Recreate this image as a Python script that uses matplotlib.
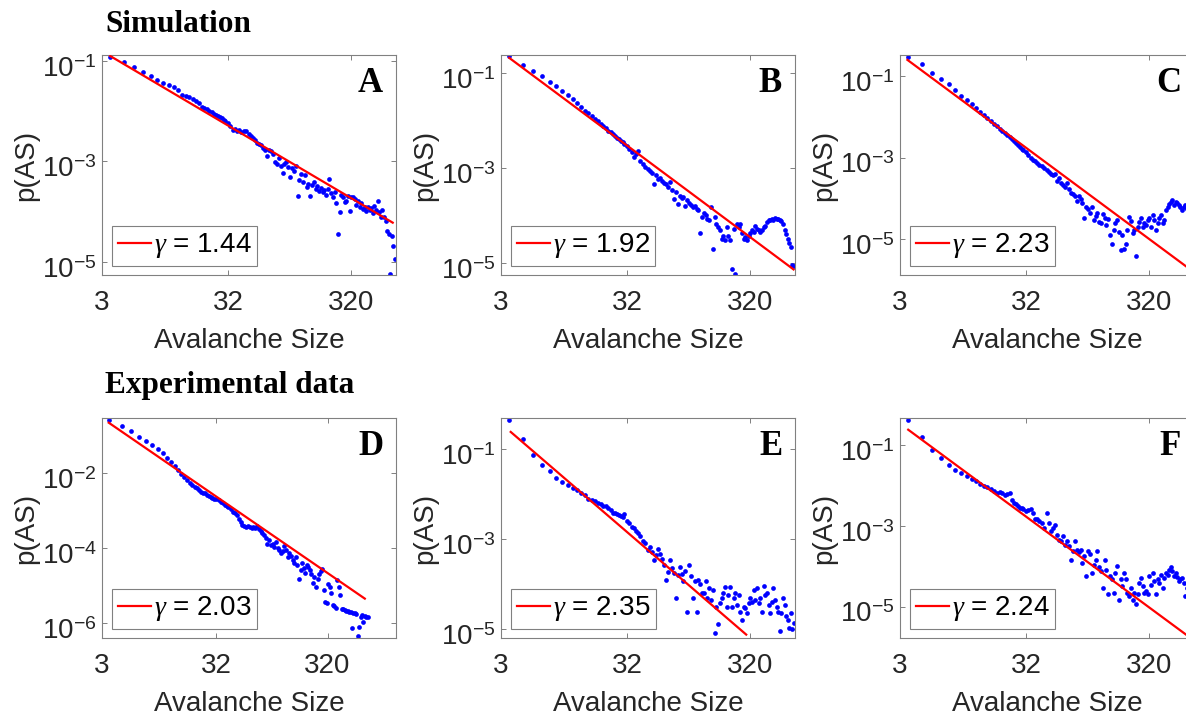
import matplotlib
matplotlib.use('Agg')
import matplotlib.pyplot as plt
from matplotlib.transforms import ScaledTranslation
import numpy as np

plt.rcParams['font.family'] = ['Liberation Sans', 'DejaVu Sans']
plt.rcParams['mathtext.fontset'] = 'custom'
plt.rcParams['mathtext.rm'] = 'Liberation Sans'
plt.rcParams['mathtext.it'] = 'Liberation Serif:italic'
plt.rcParams['mathtext.bf'] = 'Liberation Sans:bold'

#================================================
#               DATA
#================================================

# avalanche size bins (shared by all panels)
sizes = [
    3.5, 4.5, 5.5, 6.5, 7.5, 8.5, 9.5, 10.5, 11.5, 12.5,
    13.5, 14.5, 15.5, 16.5, 17.5, 18.5, 19.5, 20.5, 21.5, 22.5,
    23.5, 24.5, 25.5, 26.5, 27.5, 28.5, 29.5, 30.5, 32, 33.5,
    35, 36.5, 38, 39.5, 41, 43, 45, 47, 49, 51,
    53, 55, 57, 59, 61.5, 64, 66.5, 69, 71.5, 74,
    77, 80, 83, 86, 89, 92, 95.5, 99, 102.5, 106,
    110, 114, 118, 122, 126.5, 131, 135.5, 140, 145, 150,
    155, 160, 165.5, 171, 177, 183, 189, 195, 201.5, 208,
    215, 222, 229, 236.5, 244, 252, 260, 268.5, 277, 286,
    295, 304.5, 314, 324, 334.5, 345, 356, 367.5, 379, 391,
    403.5, 416, 429, 442.5, 456, 470, 485, 500, 515.5, 531,
    547, 564, 581, 598.5, 616, 634, 653, 672, 692, 712,
    733,
]

# log10 p(AS), simulation
log_p_a = [
    -0.91, -1.01, -1.11, -1.22, -1.30, -1.37, -1.43, -1.47, -1.52, -1.57,
    -1.67, -1.69, -1.72, -1.75, -1.80, -1.83, -1.91, -1.94, -1.96, -1.99,
    -2.01, -2.05, -2.07, -2.09, -2.11, -2.14, -2.17, -2.19, -2.23, -2.30,
    -2.38, -2.35, -2.39, -2.37, -2.41, -2.40, -2.39, -2.45, -2.50, -2.53,
    -2.58, -2.63, -2.66, -2.68, -2.73, -2.78, -2.90, -2.77, -2.79, -2.86,
    -3.01, -3.05, -2.93, -3.09, -3.23, -3.05, -3.01, -3.11, -3.30, -3.13,
    -3.19, -3.08, -3.68, -3.37, -3.25, -3.41, -3.26, -3.51, -3.45, -3.68,
    -3.46, -3.41, -3.55, -3.48, -3.58, -3.53, -3.61, -3.57, -3.66, -3.55,
    -3.35, -3.63, -3.71, -3.61, -3.83, -4.45, -4.01, -3.66, -3.71, -3.81,
    -3.78, -3.68, -3.98, -3.71, -3.70, -3.75, -3.86, -3.79, -3.91, -3.83,
    -3.95, -3.90, -3.99, -3.90, -3.97, -3.93, -4.03, -3.88, -3.97, -3.79,
    -4.01, -4.10, -3.97, -4.11, -4.19, -4.38, -4.45, -5.25, -4.48, -4.68,
    -4.95,
]
log_p_b = [
    -0.65, -0.82, -0.96, -1.06, -1.19, -1.28, -1.38, -1.46, -1.55, -1.62,
    -1.72, -1.79, -1.84, -1.91, -1.96, -2.01, -2.07, -2.11, -2.15, -2.21,
    -2.25, -2.28, -2.32, -2.36, -2.39, -2.43, -2.46, -2.49, -2.54, -2.60,
    -2.66, -2.77, -2.70, -2.64, -2.85, -2.91, -2.98, -3.02, -3.06, -3.11,
    -3.34, -3.15, -3.23, -3.20, -3.27, -3.32, -3.34, -3.39, -3.30, -3.46,
    -3.65, -3.51, -3.75, -3.58, -3.63, -3.61, -3.79, -3.68, -3.74, -3.77,
    -3.82, -3.79, -3.86, -3.89, -4.37, -4.03, -3.95, -3.98, -4.07, -4.10,
    -3.82, -4.70, -4.03, -4.17, -4.24, -4.30, -4.49, -4.42, -4.52, -4.23,
    -4.42, -4.52, -5.12, -4.28, -5.23, -4.17, -4.24, -4.17, -4.37, -4.49,
    -4.44, -4.52, -4.42, -4.37, -4.31, -4.35, -4.21, -4.28, -4.31, -4.35,
    -4.31, -4.24, -4.21, -4.14, -4.10, -4.09, -4.07, -4.10, -4.05, -4.07,
    -4.07, -4.09, -4.12, -4.17, -4.31, -4.38, -4.49, -4.58, -4.66, -5.05,
    -5.07,
]
log_p_c = [
    -0.52, -0.71, -0.91, -1.07, -1.20, -1.35, -1.48, -1.58, -1.69, -1.79,
    -1.88, -1.96, -2.03, -2.11, -2.17, -2.23, -2.29, -2.34, -2.39, -2.44,
    -2.49, -2.54, -2.59, -2.64, -2.69, -2.74, -2.78, -2.81, -2.86, -2.94,
    -3.01, -3.06, -3.09, -3.14, -3.17, -3.20, -3.25, -3.30, -3.34, -3.39,
    -3.43, -3.40, -3.57, -3.51, -3.61, -3.66, -3.71, -3.63, -3.78, -3.86,
    -3.89, -3.94, -4.06, -3.93, -4.02, -4.12, -4.49, -4.20, -4.27, -4.35,
    -4.20, -4.52, -4.43, -4.37, -4.57, -4.61, -4.39, -4.47, -4.65, -4.50,
    -4.90, -5.11, -4.78, -4.61, -4.53, -4.82, -5.27, -4.91, -5.25, -5.11,
    -4.78, -4.45, -4.55, -4.86, -4.78, -5.42, -4.70, -4.57, -4.49, -4.70,
    -4.61, -4.66, -4.53, -4.49, -4.70, -4.41, -4.53, -4.78, -4.61, -4.49,
    -4.41, -4.61, -4.52, -4.29, -4.20, -4.14, -4.08, -4.04, -4.16, -4.08,
    -4.12, -4.17, -4.20, -4.29, -4.22, -4.17, -4.27, -4.37, -4.45, -4.53,
    -4.61,
]

# log10 p(AS), experimental data
log_p_d = [
    -0.60, -0.76, -0.89, -1.04, -1.15, -1.25, -1.37, -1.47, -1.62, -1.72,
    -1.82, -1.93, -2.02, -2.11, -2.18, -2.26, -2.32, -2.37, -2.41, -2.46,
    -2.50, -2.53, -2.55, -2.58, -2.62, -2.64, -2.67, -2.69, -2.71, -2.73,
    -2.78, -2.81, -2.85, -2.89, -2.92, -2.97, -3.04, -3.08, -3.12, -3.24,
    -3.31, -3.38, -3.42, -3.43, -3.42, -3.45, -3.48, -3.43, -3.46, -3.42,
    -3.50, -3.54, -3.59, -3.66, -3.72, -3.88, -3.79, -3.92, -3.89, -3.96,
    -3.84, -4.01, -4.05, -4.14, -4.07, -3.95, -4.04, -4.23, -4.12, -4.20,
    -4.32, -4.41, -4.25, -4.45, -4.81, -4.58, -4.41, -4.54, -4.66, -4.45,
    -4.51, -4.58, -4.69, -4.94, -4.76, -5.03, -4.81, -4.69, -4.60, -4.57,
    -5.12, -5.43, -5.45, -4.96, -5.03, -5.20, -5.51, -5.54, -5.58, -4.85,
    -5.03, -5.25, -5.61, -5.63, -5.65, -5.66, -5.66, -5.69, -5.71, -6.13,
    -5.72, -5.73, -5.76, -6.34, -6.09, -5.84, -5.78, -5.96, -5.81, -5.82,
    -5.84,
]
log_p_e = [
    -0.35, -0.76, -1.13, -1.35, -1.47, -1.63, -1.72, -1.80, -1.86, -1.91,
    -1.98, -2.01, -2.10, -2.13, -2.15, -2.19, -2.21, -2.25, -2.27, -2.30,
    -2.36, -2.42, -2.41, -2.44, -2.46, -2.48, -2.51, -2.44, -2.59, -2.64,
    -2.72, -2.76, -2.81, -2.87, -2.93, -3.05, -3.09, -3.25, -3.18, -3.28,
    -3.46, -3.35, -3.22, -3.33, -3.44, -3.57, -3.90, -3.73, -3.47, -3.65,
    -3.76, -4.31, -3.80, -3.62, -3.77, -3.94, -3.70, -4.61, -3.58, -3.83,
    -4.31, -3.94, -4.61, -3.90, -3.99, -4.20, -4.19, -3.92, -4.32, -4.09,
    -4.35, -4.14, -5.09, -4.50, -4.88, -4.42, -4.32, -4.20, -4.07, -4.50,
    -4.24, -4.07, -4.50, -4.32, -4.20, -4.46, -4.24, -4.61, -4.79, -4.50,
    -4.54, -4.64, -4.42, -4.31, -4.39, -4.13, -4.35, -4.09, -4.42, -4.31,
    -4.61, -4.05, -4.24, -4.20, -4.47, -4.64, -4.39, -4.09, -4.35, -4.50,
    -4.61, -5.05, -4.64, -4.32, -4.47, -4.72, -4.79, -4.98, -4.64, -5.00,
    -4.87,
]
log_p_f = [
    -0.37, -0.80, -1.13, -1.32, -1.49, -1.63, -1.69, -1.76, -1.84, -1.90,
    -1.96, -2.01, -2.04, -2.09, -2.15, -2.19, -2.16, -2.20, -2.23, -2.22,
    -2.19, -2.37, -2.44, -2.45, -2.50, -2.56, -2.55, -2.58, -2.64, -2.62,
    -2.58, -2.68, -2.83, -2.83, -2.89, -2.93, -3.05, -2.68, -2.93, -3.14,
    -3.05, -2.97, -3.22, -3.36, -3.38, -3.26, -3.47, -3.38, -3.51, -3.84,
    -3.63, -3.38, -3.59, -3.66, -3.59, -3.92, -3.76, -4.25, -3.63, -3.71,
    -4.17, -3.96, -3.84, -3.63, -4.02, -4.13, -4.54, -3.84, -4.09, -4.70,
    -4.25, -4.33, -4.66, -4.17, -4.00, -4.83, -4.33, -4.50, -4.17, -4.33,
    -4.66, -4.75, -4.54, -4.83, -4.66, -4.95, -4.70, -4.42, -4.29, -4.50,
    -4.66, -4.62, -4.70, -4.25, -4.46, -4.17, -4.38, -4.70, -4.33, -4.42,
    -4.21, -4.54, -4.29, -4.17, -4.21, -4.09, -4.02, -4.13, -4.25, -4.17,
    -4.27, -4.38, -4.33, -4.29, -4.42, -4.75, -4.54, -4.58, -4.83, -4.70,
    -4.91,
]

panel_letters = ['A', 'B', 'C', 'D', 'E', 'F']
panel_data = [log_p_a, log_p_b, log_p_c, log_p_d, log_p_e, log_p_f]

# power-law fits: exponent, start point of the line, end of the line
gammas = [1.44, 1.92, 2.23, 2.03, 2.35, 2.24]
fit_x0 = [3.5, 3.5, 3.45, 3.45, 3.6, 3.5]
fit_logp0 = [-0.90, -0.68, -0.60, -0.67, -0.61, -0.62]
fit_x1 = [705, 730, 760, 692, 300, 760]

# axis ranges (log10 of p) and ticks
ylim_exp = [(-5.26, -0.88), (-5.25, -0.62), (-5.88, -0.48),
            (-6.39, -0.545), (-5.20, -0.30), (-5.78, -0.33)]
xlim_max = [750, 750, 750, 1320, 750, 750]
ytick_exp = [[-1, -3, -5], [-1, -3, -5], [-1, -3, -5],
             [-2, -4, -6], [-1, -3, -5], [-1, -3, -5]]
xticks = [3, 32, 320]

#================================================
#               LAYOUT
#================================================

W, H = 1186, 719
COL_LEFT = [102, 501, 900]
ROW_TOP = [55, 418]
AX_W, AX_H = 294, 220

GRAY = '#808080'
TEXT = '#262626'


def axes_rect(row, col):
    left = COL_LEFT[col] / W
    bottom = 1 - (ROW_TOP[row] + AX_H) / H
    return [left, bottom, AX_W / W, AX_H / H]


def draw_panel(fig, ax, i):
    x = np.array(sizes)
    p = 10.0 ** np.array(panel_data[i])
    ax.plot(x, p, linestyle='none', marker='o', markersize=3.4,
            markeredgewidth=0, color='blue', zorder=2)

    fx = np.array([fit_x0[i], fit_x1[i]])
    fy = 10.0 ** fit_logp0[i] * (fx / fit_x0[i]) ** (-gammas[i])
    ax.plot(fx, fy, color='red', linewidth=1.6, zorder=3,
            label=r'$\gamma$ = %.2f' % gammas[i])

    ax.set_xscale('log')
    ax.set_yscale('log')
    ax.set_xlim(3, xlim_max[i])
    lo, hi = ylim_exp[i]
    ax.set_ylim(10.0 ** lo, 10.0 ** hi)

    ax.set_xticks(xticks)
    ax.set_xticklabels([str(t) for t in xticks])
    ax.set_yticks([10.0 ** e for e in ytick_exp[i]])
    ax.set_yticklabels([r'$10^{%d}$' % e for e in ytick_exp[i]])
    ax.minorticks_off()

    for s in ax.spines.values():
        s.set_color(GRAY)
        s.set_linewidth(0.8)
    ax.tick_params(which='both', direction='in', top=True, right=True,
                   length=3.5, width=0.7, color=GRAY, labelcolor=TEXT,
                   labelsize=20)
    ax.tick_params(axis='x', pad=10.5)
    ax.tick_params(axis='y', pad=4)

    # matlab puts the "10" on the tick, the exponent sits above it
    shift = ScaledTranslation(0, -4 / 72, fig.dpi_scale_trans)
    for lab in ax.get_yticklabels():
        lab.set_transform(lab.get_transform() + shift)

    ax.set_xlabel('Avalanche Size', fontsize=20, color=TEXT)
    ax.set_ylabel('p(AS)', fontsize=20, color=TEXT)
    ax.xaxis.set_label_coords(0.5, -0.24)
    ax.yaxis.set_label_coords(-0.2125, 0.5)

    ax.text(0.956, 0.832, panel_letters[i], transform=ax.transAxes,
            ha='right', va='baseline', fontsize=25, fontweight='bold',
            family='Liberation Serif', color='black')

    leg = ax.legend(loc='lower left', bbox_to_anchor=(0.034, 0.041),
                    borderaxespad=0, fontsize=20, frameon=True,
                    fancybox=False, framealpha=1, borderpad=0.2,
                    handlelength=1.2, handletextpad=0.1)
    leg.get_frame().set_edgecolor(GRAY)
    leg.get_frame().set_linewidth(0.8)
    for t in leg.get_texts():
        t.set_color('black')


def main():
    fig = plt.figure(figsize=(W / 100, H / 100), dpi=100)

    for i in range(6):
        ax = fig.add_axes(axes_rect(i // 3, i % 3))
        draw_panel(fig, ax, i)

    fig.text(105 / W, 1 - 32 / H, 'Simulation', ha='left', va='baseline',
             fontsize=22.5, fontweight='bold', family='Liberation Serif')
    fig.text(105 / W, 1 - 393 / H, 'Experimental data', ha='left',
             va='baseline', fontsize=22.5, fontweight='bold',
             family='Liberation Serif')

    fig.savefig('out.png', dpi=100)


if __name__ == '__main__':
    main()
